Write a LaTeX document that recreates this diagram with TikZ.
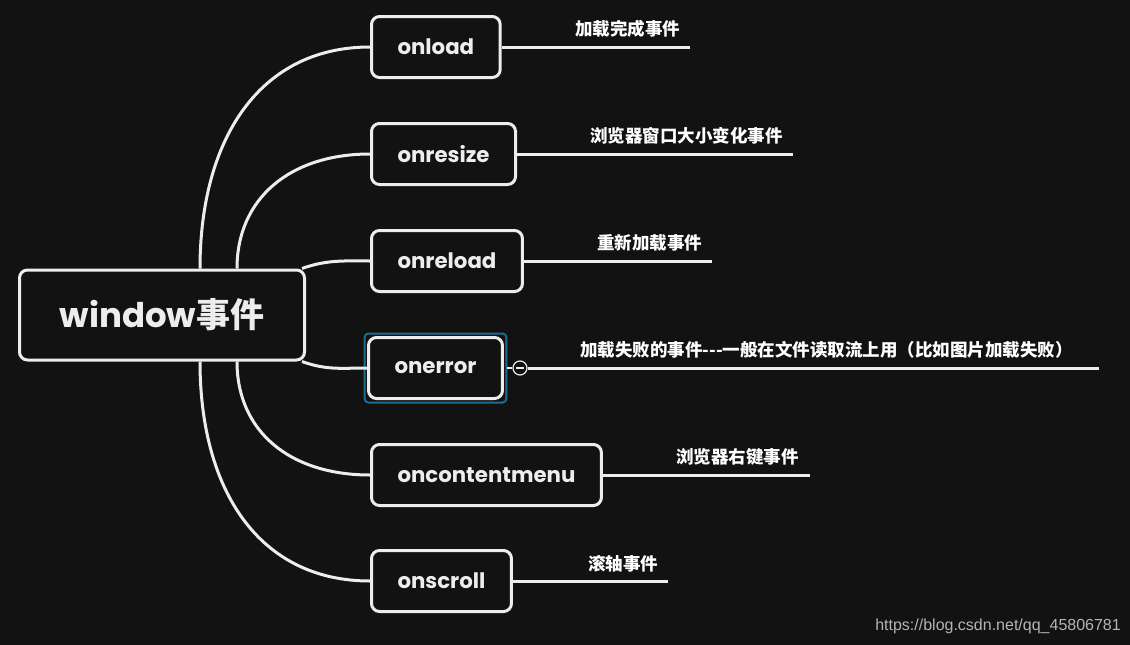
\documentclass[tikz,border=0pt]{standalone}
\usepackage{fontspec}
\setmainfont{Poppins}
\newfontfamily\cjk{Noto Sans CJK SC}
\newfontfamily\urlfont{Liberation Sans}
\usepackage{xcolor}
\usetikzlibrary{positioning,fit}
\definecolor{bg}{HTML}{121212}
\definecolor{ink}{HTML}{EDEDED}
\definecolor{selblue}{HTML}{1F6C91}
\definecolor{mark}{HTML}{B4B4B4}

\begin{document}
\begin{tikzpicture}[x=1pt, y=-1pt,
  topic/.style={rectangle, rounded corners=8pt, draw=ink, line width=3pt,
    fill=bg, text=ink, font=\fontsize{21.3}{25}\selectfont\bfseries,
    minimum height=61pt, inner xsep=26pt, anchor=west},
  rootbox/.style={topic, anchor=center, minimum width=285pt, minimum height=90pt,
    font=\fontsize{34}{40}\selectfont\bfseries},
  branch/.style={draw=ink, line width=3pt},
  note/.style={anchor=west, inner sep=0pt, text=white,
    font=\cjk\fontsize{17.5}{20}\selectfont\bfseries}
]

% background, fixes the page size
\fill[bg] (0,0) rectangle (1130,645);

% central topic
\node[rootbox] (win) at (162,315) {window{\cjk 事件}};

% sub topics
\node[topic] (onload) at (370,47) {onload};
\node[topic] (onresize) at (370,154) {onresize};
\node[topic] (onreload) at (370,261) {onreload};
\node[topic] (onerror) at (367,368) {onerror};
\node[topic] (oncm) at (370,475) {oncontentmenu};
\node[topic] (onscroll) at (370,581) {onscroll};

% selection frame
\node[fit=(onerror), draw=selblue, line width=2pt, rounded corners=4pt,
  inner sep=2.5pt] (sel) {};

% branches from the central topic
\draw[branch] ([xshift=38pt]win.north) .. controls +(0,-130) and +(-110,0) .. (onload.west);
\draw[branch] ([xshift=75pt]win.north) .. controls +(0,-70) and +(-80,0) .. (onresize.west);
\draw[branch] ([xshift=-4pt]win.north east) .. controls +(25,-9) and +(-25,0) .. (onreload.west);
\draw[branch] ([xshift=-4pt]win.south east) .. controls +(25,9) and +(-25,0) .. (onerror.west);
\draw[branch] ([xshift=75pt]win.south) .. controls +(0,70) and +(-80,0) .. (oncm.west);
\draw[branch] ([xshift=38pt]win.south) .. controls +(0,130) and +(-110,0) .. (onscroll.west);

% ends of the label lines
\coordinate (loadend) at (690,47);
\coordinate (resizeend) at (793,154);
\coordinate (reloadend) at (712,261);
\coordinate (errend) at (1099,368);
\coordinate (cmend) at (810,475);
\coordinate (scrollend) at (668,581);

% collapse marker
\node[circle, draw=ink, line width=1.2pt, minimum size=14pt, inner sep=0pt,
  fill=bg] (fold) at (520,368) {};
\draw[ink, line width=1.2pt] ([xshift=-4pt]fold.center) -- ([xshift=4pt]fold.center);

% label lines
\draw[branch] (onload.east) -- (loadend);
\draw[branch] (onresize.east) -- (resizeend);
\draw[branch] (onreload.east) -- (reloadend);
\draw[branch, line width=2pt] (sel.east) -- (fold.west);
\draw[branch] (fold.east) -- (errend);
\draw[branch] (oncm.east) -- (cmend);
\draw[branch] (onscroll.east) -- (scrollend);

% labels
\node[note] (loadtxt) at (575,29) {加载完成事件};
\node[note] (resizetxt) at (590,136) {浏览器窗口大小变化事件};
\node[note] (reloadtxt) at (597,243) {重新加载事件};
\node[note] (errtxt) at (580,350) {加载失败的事件---一般在文件读取流上用（比如图片加载失败）};
\node[note] (cmtxt) at (676,457) {浏览器右键事件};
\node[note] (scrolltxt) at (588,564) {滚轴事件};

% watermark
\node[anchor=east, inner sep=0pt, text=mark, font=\urlfont\fontsize{16}{18}\selectfont]
  (url) at (1121,626) {https://blog.csdn.net/qq\_45806781};

\end{tikzpicture}
\end{document}
